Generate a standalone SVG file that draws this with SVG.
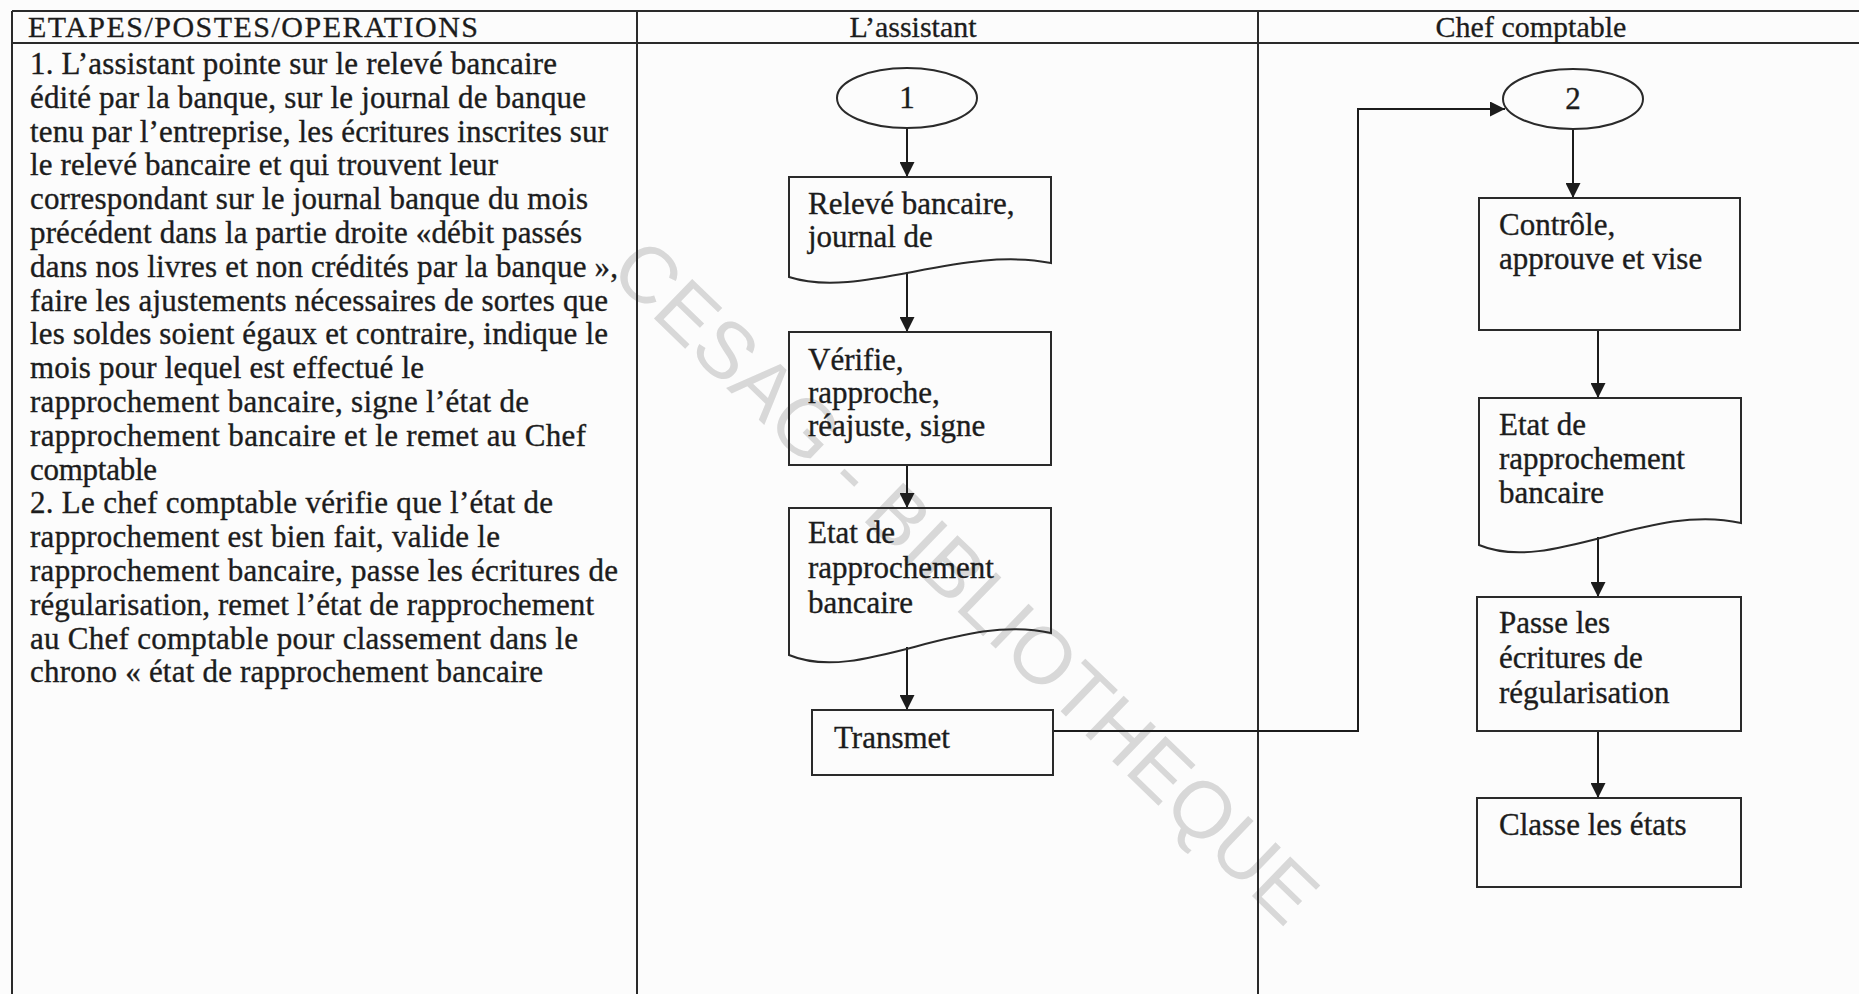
<svg xmlns="http://www.w3.org/2000/svg" width="1859" height="994" viewBox="0 0 1859 994">
<style>
.t{font-family:"Liberation Serif","Times New Roman",serif;font-size:31px;fill:#1c1c1c;stroke:#1c1c1c;stroke-width:0.35}
.n{font-family:"Liberation Serif","Times New Roman",serif;font-size:31px;fill:#1c1c1c;stroke:#1c1c1c;stroke-width:0.35}
.hd{font-family:"Liberation Serif","Times New Roman",serif;font-size:30px;fill:#1c1c1c;stroke:#1c1c1c;stroke-width:0.3}
.grid{stroke:#2a2a2a;stroke-width:2;fill:none}
.shape{stroke:#2a2a2a;stroke-width:2;fill:none}
.con{stroke:#1c1c1c;stroke-width:2;fill:none}
.wm{font-family:"Liberation Sans",Arial,sans-serif;font-size:80px;fill:#d8d8d8}
</style>
<defs>
<marker id="arr" markerUnits="userSpaceOnUse" markerWidth="15" markerHeight="15" refX="15" refY="7.5" orient="auto">
<path d="M0,0 L15,7.5 L0,15 z" fill="#1c1c1c"/>
</marker>
</defs>
<rect x="0" y="0" width="1859" height="994" fill="#fcfcfc"/>
<g id="watermark">
<text class="wm" transform="translate(966,581) rotate(44)" x="0" y="28" text-anchor="middle">CESAG - BIBLIOTHEQUE</text>
</g>
<g id="table">
<line class="grid" x1="12" y1="11" x2="1859" y2="11"/>
<line class="grid" x1="12" y1="43" x2="1859" y2="43"/>
<line class="grid" x1="12" y1="11" x2="12" y2="994"/>
<line class="grid" x1="637" y1="11" x2="637" y2="994"/>
<line class="grid" x1="1258" y1="11" x2="1258" y2="994"/>
<text class="hd" x="28" y="37" textLength="450" lengthAdjust="spacing">ETAPES/POSTES/OPERATIONS</text>
<text class="hd" x="913" y="37" text-anchor="middle">L’assistant</text>
<text class="hd" x="1531" y="37" text-anchor="middle">Chef comptable</text>
</g>
<g id="operations">
<text class="t" x="30" y="74" textLength="527" lengthAdjust="spacing">1. L’assistant pointe sur le relevé bancaire</text>
<text class="t" x="30" y="107.8" textLength="556" lengthAdjust="spacing">édité par la banque, sur le journal de banque</text>
<text class="t" x="30" y="141.6" textLength="578" lengthAdjust="spacing">tenu par l’entreprise, les écritures inscrites sur</text>
<text class="t" x="30" y="175.4" textLength="468" lengthAdjust="spacing">le relevé bancaire et qui trouvent leur</text>
<text class="t" x="30" y="209.2" textLength="558" lengthAdjust="spacing">correspondant sur le journal banque du mois</text>
<text class="t" x="30" y="243" textLength="552" lengthAdjust="spacing">précédent dans la partie droite «débit passés</text>
<text class="t" x="30" y="276.8" textLength="588" lengthAdjust="spacing">dans nos livres et non crédités par la banque »,</text>
<text class="t" x="30" y="310.6" textLength="578" lengthAdjust="spacing">faire les ajustements nécessaires de sortes que</text>
<text class="t" x="30" y="344.4" textLength="578" lengthAdjust="spacing">les soldes soient égaux et contraire, indique le</text>
<text class="t" x="30" y="378.2" textLength="394" lengthAdjust="spacing">mois pour lequel est effectué le</text>
<text class="t" x="30" y="412" textLength="499" lengthAdjust="spacing">rapprochement bancaire, signe l’état de</text>
<text class="t" x="30" y="445.8" textLength="556" lengthAdjust="spacing">rapprochement bancaire et le remet au Chef</text>
<text class="t" x="30" y="479.6" textLength="127" lengthAdjust="spacing">comptable</text>
<text class="t" x="30" y="513.4" textLength="523" lengthAdjust="spacing">2. Le chef comptable vérifie que l’état de</text>
<text class="t" x="30" y="547.2" textLength="470" lengthAdjust="spacing">rapprochement est bien fait, valide le</text>
<text class="t" x="30" y="581" textLength="588" lengthAdjust="spacing">rapprochement bancaire, passe les écritures de</text>
<text class="t" x="30" y="614.8" textLength="564" lengthAdjust="spacing">régularisation, remet l’état de rapprochement</text>
<text class="t" x="30" y="648.6" textLength="548" lengthAdjust="spacing">au Chef comptable pour classement dans le</text>
<text class="t" x="30" y="682.4" textLength="513" lengthAdjust="spacing">chrono « état de rapprochement bancaire</text>
</g>
<g id="connectors">
<line class="con" x1="907" y1="128" x2="907" y2="177" marker-end="url(#arr)"/>
<line class="con" x1="907" y1="272" x2="907" y2="332" marker-end="url(#arr)"/>
<line class="con" x1="907" y1="465" x2="907" y2="508" marker-end="url(#arr)"/>
<line class="con" x1="907" y1="647" x2="907" y2="710" marker-end="url(#arr)"/>
<polyline class="con" points="1053,731 1358,731 1358,109 1505,109" marker-end="url(#arr)"/>
<line class="con" x1="1573" y1="129" x2="1573" y2="198" marker-end="url(#arr)"/>
<line class="con" x1="1598" y1="330" x2="1598" y2="398" marker-end="url(#arr)"/>
<line class="con" x1="1598" y1="537" x2="1598" y2="597" marker-end="url(#arr)"/>
<line class="con" x1="1598" y1="731" x2="1598" y2="798" marker-end="url(#arr)"/>
</g>
<g id="start1">
<ellipse class="shape" cx="907" cy="98" rx="70" ry="30"/>
<text class="n" x="907" y="108" text-anchor="middle">1</text>
</g>
<g id="doc-releve">
<path class="shape" d="M789,177 H1051 V263 C960,245 860,300 789,277 Z"/>
<text class="n" x="808" y="214">Relevé bancaire,</text>
<text class="n" x="808" y="247">journal de</text>
</g>
<g id="verifie">
<rect class="shape" x="789" y="332" width="262" height="133"/>
<text class="n" x="808" y="370">Vérifie,</text>
<text class="n" x="808" y="403">rapproche,</text>
<text class="n" x="808" y="436">réajuste, signe</text>
</g>
<g id="doc-etat1">
<path class="shape" d="M789,508 H1051 V633 C960,612 860,685 789,655 Z"/>
<text class="n" x="808" y="543">Etat de</text>
<text class="n" x="808" y="578">rapprochement</text>
<text class="n" x="808" y="613">bancaire</text>
</g>
<g id="transmet">
<rect class="shape" x="812" y="710" width="241" height="65"/>
<text class="n" x="834" y="748">Transmet</text>
</g>
<g id="start2">
<ellipse class="shape" cx="1573" cy="99" rx="70" ry="30"/>
<text class="n" x="1573" y="109" text-anchor="middle">2</text>
</g>
<g id="controle">
<rect class="shape" x="1479" y="198" width="261" height="132"/>
<text class="n" x="1499" y="235">Contrôle,</text>
<text class="n" x="1499" y="269">approuve et vise</text>
</g>
<g id="doc-etat2">
<path class="shape" d="M1479,398 H1741 V523 C1650,502 1550,575 1479,545 Z"/>
<text class="n" x="1499" y="435">Etat de</text>
<text class="n" x="1499" y="469">rapprochement</text>
<text class="n" x="1499" y="503">bancaire</text>
</g>
<g id="passe">
<rect class="shape" x="1477" y="597" width="264" height="134"/>
<text class="n" x="1499" y="633">Passe les</text>
<text class="n" x="1499" y="668">écritures de</text>
<text class="n" x="1499" y="703">régularisation</text>
</g>
<g id="classe">
<rect class="shape" x="1477" y="798" width="264" height="89"/>
<text class="n" x="1499" y="835">Classe les états</text>
</g>
</svg>
